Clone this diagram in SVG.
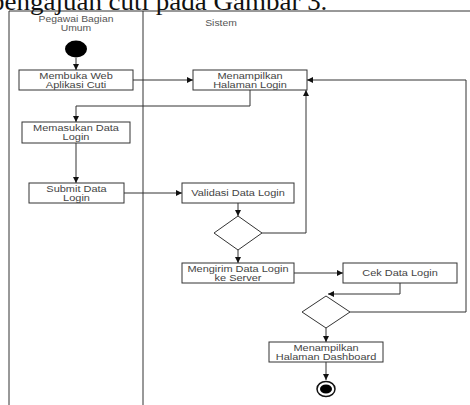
<svg xmlns="http://www.w3.org/2000/svg" width="470" height="405" viewBox="0 0 470 405">
<defs>
<marker id="ah" viewBox="0 0 10 10" refX="10" refY="5" markerWidth="6" markerHeight="6" markerUnits="userSpaceOnUse" orient="auto">
<path d="M0,0 L10,5 L0,10 z" fill="#111"/>
</marker>
<style>
.box{fill:#fff;stroke:#333;stroke-width:1}
.lbl{font-family:"Liberation Sans",Arial,sans-serif;font-size:9px;fill:#444;text-anchor:middle}
.hdr{font-family:"Liberation Sans",Arial,sans-serif;font-size:8.5px;fill:#555;text-anchor:middle}
.ln{fill:none;stroke:#333;stroke-width:1}
.ar{fill:none;stroke:#333;stroke-width:1;marker-end:url(#ah)}
.dia{fill:#fff;stroke:#333;stroke-width:1}
</style>
</defs>
<rect width="470" height="405" fill="#fff"/>
<g id="lanes">
<path class="ln" d="M9,405 V11 H470 M143,11 V405"/>
<text class="hdr" transform="translate(76 22) scale(1.22 1)">Pegawai Bagian</text>
<text class="hdr" transform="translate(76 31) scale(1.22 1)">Umum</text>
<text class="hdr" transform="translate(221 26) scale(1.22 1)">Sistem</text>
</g>
<text transform="translate(-9 9.5) scale(1.08 1)" font-family="'Liberation Serif','Times New Roman',serif" font-size="25" fill="#111">pengajuan cuti pada Gambar 3.</text>
<g id="connectors">
<path class="ar" d="M76,58 V70"/>
<path class="ar" d="M133,80 H193"/>
<path class="ar" d="M250,90 V106 H76 V122"/>
<path class="ar" d="M76,143 V183"/>
<path class="ar" d="M124,193 H182"/>
<path class="ar" d="M238,203 V216"/>
<path class="ar" d="M262,233 H306 V90"/>
<path class="ar" d="M238,250 V263"/>
<path class="ar" d="M294,273 H343"/>
<path class="ar" d="M400,283 V294 H328"/>
<path class="ar" d="M350,312 H466 V80 H307"/>
<path class="ar" d="M326,328 V342"/>
<path class="ar" d="M326,362 V380"/>
</g>
<g id="start"><ellipse cx="76" cy="49" rx="11" ry="8.5" fill="#000"/></g>
<g id="membuka"><rect class="box" x="19" y="70" width="114" height="20"/><text class="lbl" transform="translate(76 78.5) scale(1.22 1)">Membuka Web</text><text class="lbl" transform="translate(76 87.5) scale(1.22 1)">Aplikasi Cuti</text></g>
<g id="menampilkan-login"><rect class="box" x="193" y="70" width="114" height="20"/><text class="lbl" transform="translate(250 78.5) scale(1.22 1)">Menampilkan</text><text class="lbl" transform="translate(250 87.5) scale(1.22 1)">Halaman Login</text></g>
<g id="memasukan"><rect class="box" x="22" y="122" width="108" height="21"/><text class="lbl" transform="translate(76 131) scale(1.22 1)">Memasukan Data</text><text class="lbl" transform="translate(76 140) scale(1.22 1)">Login</text></g>
<g id="submit"><rect class="box" x="29" y="183" width="95" height="20"/><text class="lbl" transform="translate(76.5 191.5) scale(1.22 1)">Submit Data</text><text class="lbl" transform="translate(76.5 200.5) scale(1.22 1)">Login</text></g>
<g id="validasi"><rect class="box" x="182" y="183" width="112" height="20"/><text class="lbl" transform="translate(238 196) scale(1.22 1)">Validasi Data Login</text></g>
<g id="decision1"><path class="dia" d="M238,216 L262,233 L238,250 L214,233 z"/></g>
<g id="mengirim"><rect class="box" x="182" y="263" width="112" height="20"/><text class="lbl" transform="translate(238 271.5) scale(1.22 1)">Mengirim Data Login</text><text class="lbl" transform="translate(238 280.5) scale(1.22 1)">ke Server</text></g>
<g id="cek"><rect class="box" x="343" y="263" width="114" height="20"/><text class="lbl" transform="translate(400 276) scale(1.22 1)">Cek Data Login</text></g>
<g id="decision2"><path class="dia" d="M326,296 L350,312 L326,328 L302,312 z"/></g>
<g id="dashboard"><rect class="box" x="269" y="342" width="114" height="20"/><text class="lbl" transform="translate(326 350.5) scale(1.22 1)">Menampilkan</text><text class="lbl" transform="translate(326 359.5) scale(1.22 1)">Halaman Dashboard</text></g>
<g id="end"><ellipse cx="326" cy="389" rx="9" ry="7.5" fill="#fff" stroke="#111" stroke-width="1.5"/><ellipse cx="326" cy="389" rx="6" ry="4.5" fill="#000"/></g>
</svg>
